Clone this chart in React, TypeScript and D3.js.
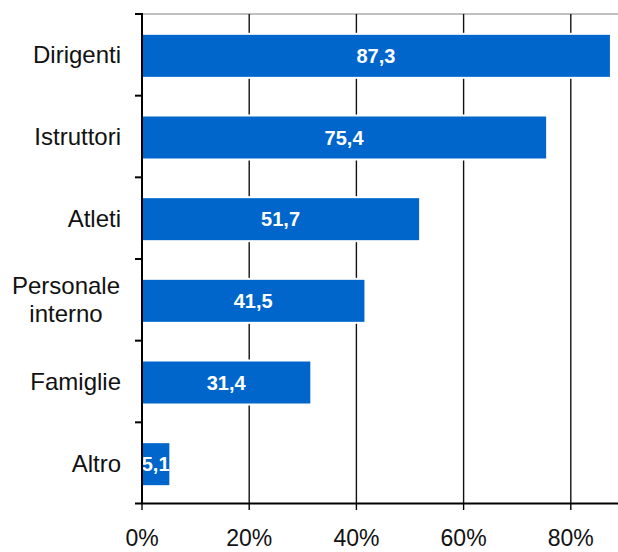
import React from "react";
import * as d3 from "d3";

const categories = ["Dirigenti", "Istruttori", "Atleti", "Personale\ninterno", "Famiglie", "Altro"];
const values = [87.3, 75.4, 51.7, 41.5, 31.4, 5.1];
const xTicks = [0, 20, 40, 60, 80];

const W = 618;
const H = 552;
const FONT = "'Liberation Sans', Arial, sans-serif";
const BAR = "#0066CC";

export default function App() {
  const left = 142;
  const top = 14;
  const bottom = 504;
  const x = d3.scaleLinear().domain([0, 100]).range([left, left + 536]);
  const y = d3.scaleBand<string>().domain(categories).range([top, bottom]).paddingInner(0).paddingOuter(0);
  const step = y.step();
  const barH = 42;
  const fmt = (v: number) => d3.format(".1f")(v).replace(".", ",");
  const boundaries = d3.range(categories.length + 1).map((i) => top + i * step);

  return (
    <svg width={W} height={H} style={{ position: "absolute", left: 0, top: 0, background: "#fff" }} fontFamily={FONT}>
      {/* top frame line */}
      <line x1={left + 1} x2={W} y1={top} y2={top} stroke="#c0c0c0" strokeWidth={2} />
      {/* vertical gridlines */}
      {xTicks.filter((t) => t > 0).map((t) => (
        <line key={"g" + t} x1={x(t)} x2={x(t)} y1={top} y2={bottom} stroke="#111" strokeWidth={1.4} />
      ))}
      {/* bars */}
      {categories.map((c, i) => {
        const by = (y(c) as number) + (step - barH) / 2 + 1;
        return (
          <g key={c}>
            <rect x={left} y={by} width={x(values[i]) - left} height={barH} fill={BAR} stroke="#fff" strokeWidth={4} />
            <rect x={left} y={by} width={x(values[i]) - left} height={barH} fill={BAR} />
            <text
              x={(left + x(values[i])) / 2}
              y={by + barH / 2}
              dy="0.36em"
              textAnchor="middle"
              fill="#fff"
              fontWeight="bold"
              fontSize={20}
            >
              {fmt(values[i])}
            </text>
          </g>
        );
      })}
      {/* left axis */}
      <line x1={left} x2={left} y1={top - 1} y2={bottom} stroke="#000" strokeWidth={2} />
      {boundaries.slice(0, -1).map((b, i) => (
        <line key={"yt" + i} x1={left - 7} x2={left} y1={b} y2={b} stroke="#000" strokeWidth={2} />
      ))}
      {/* bottom axis */}
      <line x1={left - 7} x2={W} y1={bottom - 0.5} y2={bottom - 0.5} stroke="#000" strokeWidth={2.2} />
      {xTicks.map((t) => (
        <g key={"xt" + t}>
          <line x1={x(t)} x2={x(t)} y1={bottom} y2={bottom + 6} stroke="#000" strokeWidth={1.4} />
          <text x={x(t)} y={546} textAnchor="middle" fontSize={23} fill="#111">
            {t + "%"}
          </text>
        </g>
      ))}
      {/* category labels */}
      {categories.map((c) => {
        const cy = (y(c) as number) + step / 2;
        const lines = c.split("\n");
        if (lines.length === 1) {
          return (
            <text key={"l" + c} x={121} y={cy} dy="0.36em" textAnchor="end" fontSize={24} fill="#111">
              {c}
            </text>
          );
        }
        const lh = 28;
        return (
          <text key={"l" + c} textAnchor="middle" fontSize={24} fill="#111">
            {lines.map((ln, j) => (
              <tspan key={j} x={66} y={cy + (j - (lines.length - 1) / 2) * lh} dy="0.36em">
                {ln}
              </tspan>
            ))}
          </text>
        );
      })}
    </svg>
  );
}
